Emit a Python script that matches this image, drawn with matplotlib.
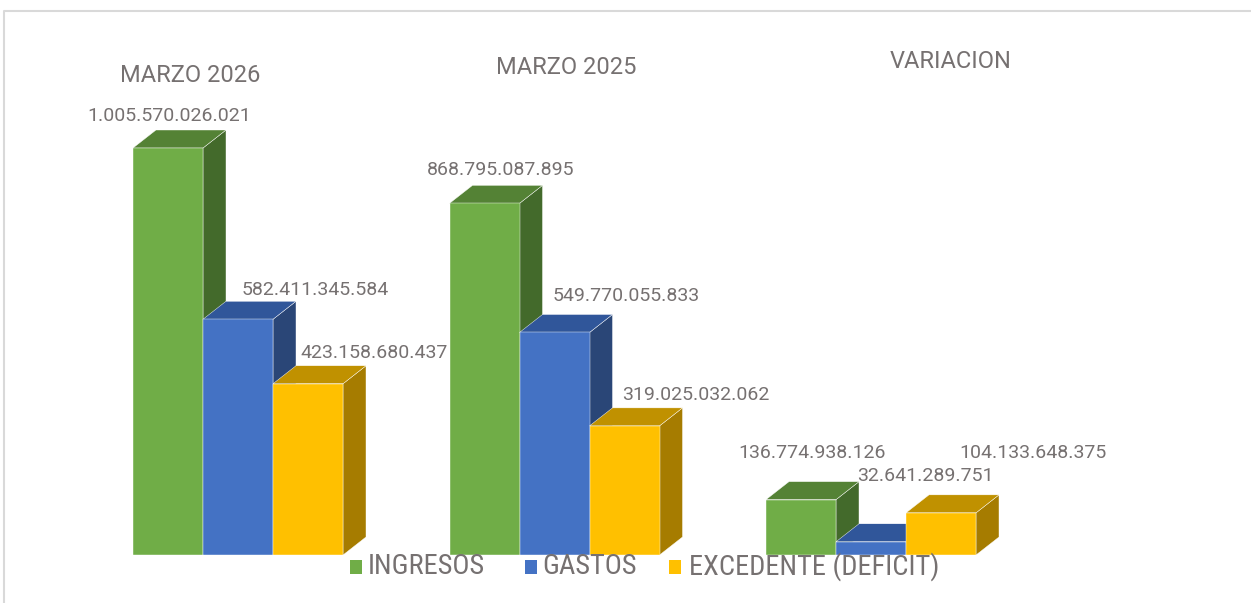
import matplotlib.pyplot as plt
from matplotlib.patches import Polygon, Rectangle

# datos
grupos = ["MARZO 2026", "MARZO 2025", "VARIACION"]
series = ["INGRESOS", "GASTOS", "EXCEDENTE (DEFICIT)"]
ingresos = [1005570026021, 868795087895, 136774938126]
gastos = [582411345584, 549770055833, 32641289751]
excedente = [423158680437, 319025032062, 104133648375]
valores = [ingresos, gastos, excedente]


def fmt(v):
    return f"{v:,}".replace(",", ".")


# estilo
W, H = 1251, 603
colores = [
    # frente, arriba, lado
    ("#70AD47", "#548235", "#436A2B"),
    ("#4472C4", "#30569A", "#2A4677"),
    ("#FFC000", "#C09100", "#A67C00"),
]
gris = "#767171"
base_px = 555
px_por_unidad = 407 / 1005570026021
grupo_px = 316.5
barra_px = 70
prof_dx, prof_dy = 23, 18

# offsets de las etiquetas (pixeles) relativo al centro-frente/tope de cada barra
label_off = [
    [(1, 32), (77, 29), (66, 31)],
    [(16, 33), (72, 36), (71, 31)],
    [(11, 47), (54, 66), (92, 60)],
]
titulos_pos = [(190, 75), (566, 67), (951, 61)]

fig = plt.figure(figsize=(W / 100, H / 100), dpi=100)
ax = fig.add_axes([0, (H - base_px) / H, 1, base_px / H])
ax.set_xlim(-238 / grupo_px, (W - 238) / grupo_px)
ax.set_ylim(0, base_px / px_por_unidad)
ax.axis("off")

bw = barra_px / grupo_px
ddx = prof_dx / grupo_px
ddy = prof_dy / px_por_unidad

for g in range(len(grupos)):
    for s in range(len(series)):
        v = valores[s][g]
        x0 = g + (s - 1.5) * bw
        x1 = x0 + bw
        fr, top, side = colores[s]
        ax.add_patch(Polygon([(x1, 0), (x1 + ddx, ddy), (x1 + ddx, v + ddy), (x1, v)],
                             closed=True, fc=side, ec="#FFFFFF", lw=0.3))
        ax.add_patch(Polygon([(x0, v), (x1, v), (x1 + ddx, v + ddy), (x0 + ddx, v + ddy)],
                             closed=True, fc=top, ec="#FFFFFF", lw=0.3))
        ax.add_patch(Rectangle((x0, 0), bw, v, fc=fr, ec="#FFFFFF", lw=0.3))
        ox, oy = label_off[g][s]
        ax.annotate(fmt(v), xy=(x0 + bw / 2, v), xytext=(ox, oy),
                    textcoords="offset pixels", ha="center", va="center",
                    fontsize=14, color=gris, family=["Roboto", "DejaVu Sans"])

for nombre, (px, py) in zip(grupos, titulos_pos):
    fig.text(px / W, 1 - py / H, nombre, ha="center", va="center",
             fontsize=17, color=gris, family=["Roboto", "DejaVu Sans"])

# leyenda
leg_x = [(350, 368), (525, 542), (669, 689)]
leg_y = 567
for s, (mx, tx) in enumerate(leg_x):
    fig.patches.append(Rectangle((mx / W, 1 - (leg_y + 7) / H), 12 / W, 14 / H,
                                 transform=fig.transFigure, fc=colores[s][0], ec="none"))
    fig.text(tx / W, 1 - leg_y / H, series[s], ha="left", va="center",
             fontsize=20.5, color=gris,
             family=["Liberation Sans Narrow", "Roboto Condensed", "DejaVu Sans"])

# marco
fig.add_artist(plt.Line2D([3.5 / W, 3.5 / W, 1], [0, 1 - 10.5 / H, 1 - 10.5 / H],
                          transform=fig.transFigure, color="#D9D9D9", lw=1.5))

fig.savefig("out.png", dpi=100)
